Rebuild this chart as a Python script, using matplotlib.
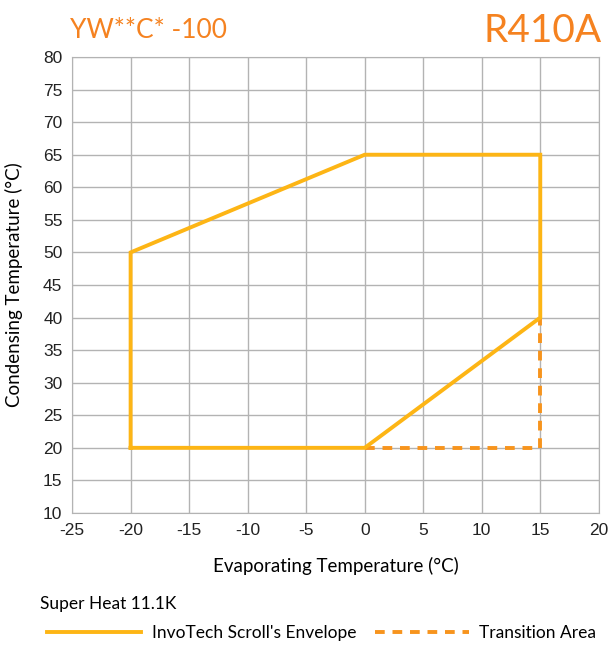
import numpy as np
import matplotlib.pyplot as plt
from matplotlib.lines import Line2D

plt.rcParams['axes.unicode_minus'] = False

# Envelope (evaporating, condensing) in degC
env_x = [-20, -20, 0, 15, 15, 0, -20]
env_y = [20, 50, 65, 65, 40, 20, 20]
# Transition area
trans_x = [0, 15, 15]
trans_y = [20, 20, 40]

x_ticks = list(range(-25, 25, 5))
y_ticks = list(range(10, 85, 5))

c_env = '#FDB515'
c_trans = '#F7941D'
c_title = '#F58220'

fig = plt.figure(figsize=(6.11, 6.45), dpi=100)
ax = fig.add_axes([0.118, 0.2047, 0.862, 0.7069])

ax.plot(trans_x, trans_y, color=c_trans, lw=2.8, linestyle=(0, (2.5, 2)), zorder=3)
ax.plot(env_x, env_y, color=c_env, lw=2.8, zorder=4, solid_joinstyle='miter')

ax.set_xlim(-25, 20)
ax.set_ylim(10, 80)
ax.set_xticks(x_ticks)
ax.set_yticks(y_ticks)
ax.grid(True, color='#b3b3b3', lw=1)
for s in ax.spines.values():
    s.set_color('#b3b3b3')
ax.tick_params(length=0, labelsize=12.5, pad=7, colors='#222222')
for lab in ax.get_xticklabels() + ax.get_yticklabels():
    lab.set_family('Liberation Sans')

ax.set_xlabel('Evaporating Temperature (°C)', fontsize=13.5, family='Lato', labelpad=14)
ax.set_ylabel('Condensing Temperature (°C)', fontsize=13.5, family='Lato', labelpad=14)

fig.text(0.115, 0.952, 'YW**C* -100', color=c_title, fontsize=19, family='Lato',
         ha='left', va='center')
fig.text(0.985, 0.952, 'R410A', color=c_title, fontsize=28, family='Lato',
         ha='right', va='center')

fig.text(0.066, 0.063, 'Super Heat 11.1K', fontsize=12.5, family='Lato', va='center')
handles = [Line2D([], [], color=c_env, lw=2.8),
           Line2D([], [], color=c_trans, lw=2.8, linestyle=(0, (2.5, 2)))]
fig.legend(handles, ["InvoTech Scroll's Envelope", 'Transition Area'],
           loc='center left', bbox_to_anchor=(0.052, 0.018), ncol=2, frameon=False,
           handlelength=5.4, handletextpad=0.6, columnspacing=1.1,
           prop={'family': 'Lato', 'size': 12.5})

fig.savefig('out.png', dpi=100)
